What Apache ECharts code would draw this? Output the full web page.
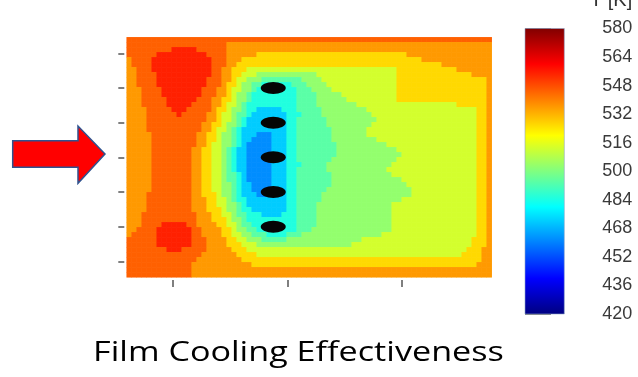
<!DOCTYPE html>
<html><head><meta charset="utf-8">
<script src="https://cdn.jsdelivr.net/npm/echarts@6/dist/echarts.min.js"></script>
<style>html,body{margin:0;padding:0;background:#fff;}#c{width:638px;height:377px;}</style>
</head><body><div id="c"></div>
<script>
// Temperature bands (code letter -> K)
const bandCodes  = ['R', 'O', 'A', 'Y', 'L', 'G', 'Q', 'C', 'B', 'D'];
const bandValues = [555, 545, 536, 526, 513, 503, 494, 485, 472, 462];

// 48 rows x 73 columns, run-length coded: letter + exclusive end column
const fieldRows = [
"O73",
"O20A73",
"O9R14O20A73",
"O6R16O20A26Y56A73",
"A1O5R17O20A23Y59A73",
"A1O5R17O20A22Y63A73",
"A2O5R17O19A21Y24L54Y66A73",
"A2O6R17O19A21Y23L26G38L54Y69A73",
"A2O6R16O19A21Y22L24G27Q35G39L54Y72A73",
"A2O6R16O19A20Y22L23G25Q27C33Q36G40L54Y72A73",
"A3O7R15O18A20Y21L23G25Q26C34Q37G41L54Y72A73",
"A3O7R15O18A20Y21L22G24Q25C34Q38G43L54Y72A73",
"A3O8R14O17A19Y21L22G24Q25C34Q38G44L54Y72A73",
"A3O8R13O17A19Y20L22G23Q24C34Q38G46L66Y72A73",
"A4O9R12O17A18Y20L21G23Q24C26B31C34Q39G48L70Y72A73",
"A4O10R11O16A18Y19L21G22Q24C25B32C35Q39G49L70Y72A73",
"A4O16A18Y19L21G22Q23C24B32C34Q40G50L70Y72A73",
"A4O15A17Y19L20G22Q23C24B32C34Q40G49L70Y72A73",
"A4O15A17Y18L20G21Q22C23B32C34Q41G48L70Y72A73",
"A5O14A16Y18L19G21Q22C23B26D29B32C34Q41G48L70Y72A73",
"A5O14A16Y18L19G21Q22C23B25D29B32C34Q41G50L70Y72A73",
"A5O14A16Y17L19G21Q22C23B24D29B32C34Q42G52L70Y72A73",
"A5O13A15Y17L19G20Q21C22B24D29B32C34Q42G54L70Y72A73",
"A5O13A15Y17L19G20Q21C22B24D29B32C34Q42G55L70Y72A73",
"A5O13A15Y17L19G20Q21C22B24D29B32C34Q41G54L70Y72A73",
"A5O13A15Y17L19G20Q21C22B24D29B32C35Q40G53L70Y72A73",
"A5O13A15Y17L19G20Q21C22B24D29B32C34Q40G52L70Y72A73",
"A5O13A15Y17L19G20Q22C23B24D29B32C34Q41G53L70Y72A73",
"A5O13A15Y17L19G20Q22C23B24D29B32C34Q41G55L70Y72A73",
"A5O13A15Y17L19G21Q22C23B25D29B32C34Q41G56L70Y72A73",
"A5O13A15Y17L19G21Q22C23B25D29B32C34Q40G57L70Y72A73",
"A4O13A15Y18L19G21Q22C23B26D28B32C34Q39G57L70Y72A73",
"A4O13A16Y18L20G21Q22C24B32C34Q39G55L70Y72A73",
"A4O13A16Y18L20G22Q23C24B32C34Q38G53L70Y72A73",
"A4O13A16Y19L20G22Q23C25B32C34Q38G53L70Y72A73",
"A3O14A17Y19L21G22Q24C27B31C34Q38G53L70Y72A73",
"A3O14A17Y20L21G23Q24C34Q38G53L70Y72A73",
"A3O7R12O14A18Y20L22G23Q25C34Q38G53L70Y72A73",
"A2O6R13O15A19Y21L22G24Q26C34Q37G53L70Y72A73",
"A1O6R13O15A19Y21L23G25Q28C32Q35G51L70Y72A73",
"O6R13O16A20Y22L24G27Q32G47L69Y72A73",
"O6R13O16A20Y23L26G45L69Y72A73",
"O8R11O16A21Y24L68Y71A73",
"O15A22Y26L67Y71A73",
"O14A23Y71A73",
"O13A25Y70A73",
"O13A73",
"O13A73"
];

// film cooling holes (in tick units)
const holeX = [1.877, 1.877, 1.877, 1.877, 1.877];
const holeY = [2, 3, 4, 5, 6];

// colour bar range and tick labels
const colorbarMin = 420, colorbarMax = 580;
const colorbarLabels = ['420','436','452','468','484','500','516','532','548','564','580'];

const jetColors = ['#000080','#0000ff','#0080ff','#00ffff','#80ff80','#ffff00','#ff8000','#ff0000','#800000'];

const NCOLS = 73;
const NROWS = fieldRows.length;
const heatData = [];
fieldRows.forEach(function (row, r) {
  let c = 0;
  row.replace(/([A-Z])(\d+)/g, function (m, ch, end) {
    const v = bandValues[bandCodes.indexOf(ch)];
    for (; c < +end; c++) heatData.push([c, r, v]);
    return m;
  });
});
const colCats = [], rowCats = [];
for (let i = 0; i < NCOLS; i++) colCats.push(String(i));
for (let j = 0; j < NROWS; j++) rowCats.push(String(j));

const tickStyle = {color: '#555', width: 1.5};
const barStops = jetColors.map(function (col, i) { return {offset: i / (jetColors.length - 1), color: col}; });

const chart = echarts.init(document.getElementById('c'), null, {renderer: 'canvas'});
chart.setOption({
  animation: false,
  backgroundColor: '#fff',
  grid: [
    {left: 126.7, top: 37.3, width: 365, height: 240, show: false},
    {left: 525, top: 28.5, width: 39.3, height: 285.5, show: false},
    {left: 172.7, top: 53.3, width: 229.3, height: 208, show: false}
  ],
  xAxis: [
    {type: 'category', gridIndex: 0, data: colCats, show: false},
    {type: 'value', gridIndex: 1, min: 0, max: 1, show: false},
    {type: 'value', gridIndex: 2, min: 1, max: 3, interval: 1, position: 'bottom', offset: 18.7,
     axisLine: {show: false}, axisTick: {show: true, length: 7, lineStyle: tickStyle},
     axisLabel: {show: false}, splitLine: {show: false}}
  ],
  yAxis: [
    {type: 'category', gridIndex: 0, data: rowCats, inverse: true, show: false},
    {type: 'value', gridIndex: 1, min: 0, max: 10, interval: 1, position: 'right',
     axisLine: {show: false}, axisTick: {show: true, length: 26, lineStyle: tickStyle},
     axisLabel: {show: true, margin: 38, color: '#3a3a3a', fontSize: 18,
       fontFamily: '"Liberation Sans", Arial, sans-serif',
       formatter: function (v) { return colorbarLabels[v]; }},
     splitLine: {show: false}},
    {type: 'value', gridIndex: 2, min: 1, max: 7, interval: 1, position: 'left', offset: 48.4,
     axisLine: {show: false}, axisTick: {show: true, length: 6, lineStyle: tickStyle},
     axisLabel: {show: false}, splitLine: {show: false}}
  ],
  visualMap: {
    type: 'continuous', min: colorbarMin, max: colorbarMax, seriesIndex: 0, show: false,
    inRange: {color: jetColors}
  },
  series: [
    {type: 'heatmap', xAxisIndex: 0, yAxisIndex: 0, data: heatData, progressive: 0,
     emphasis: {disabled: true}, itemStyle: {borderWidth: 0}, silent: true},
    {type: 'scatter', xAxisIndex: 2, yAxisIndex: 2,
     data: holeX.map(function (x, i) { return [x, holeY[i]]; }),
     symbol: 'circle', symbolSize: [25, 12], itemStyle: {color: '#050505', opacity: 1},
     z: 5, silent: true}
  ],
  graphic: [
    {type: 'rect', shape: {x: 525, y: 28.5, width: 39.3, height: 285.5},
     style: {fill: new echarts.graphic.LinearGradient(0, 1, 0, 0, barStops), stroke: '#8fa6c8', lineWidth: 0.6}, z: 1},
    {type: 'polygon', shape: {points: [[12.7,140.7],[78,140.7],[78,126],[105,154],[78,183.3],[78,167.3],[12.7,167.3]]},
     style: {fill: '#ff0000', stroke: '#2f528f', lineWidth: 1.5}},
    {type: 'text', x: 93, y: 353, scaleX: 1.22,
     style: {text: 'Film Cooling Effectiveness', fontSize: 28, fontFamily: 'Open Sans', fill: '#000',
       align: 'left', verticalAlign: 'middle', textAlign: 'left', textVerticalAlign: 'middle'}},
    {type: 'text', x: 590, y: 0,
     style: {text: 'T [K]', fontSize: 20, fontFamily: '"Liberation Sans", Arial, sans-serif', fill: '#333',
       align: 'left', verticalAlign: 'middle', textAlign: 'left', textVerticalAlign: 'middle'}}
  ]
});
</script></body></html>
